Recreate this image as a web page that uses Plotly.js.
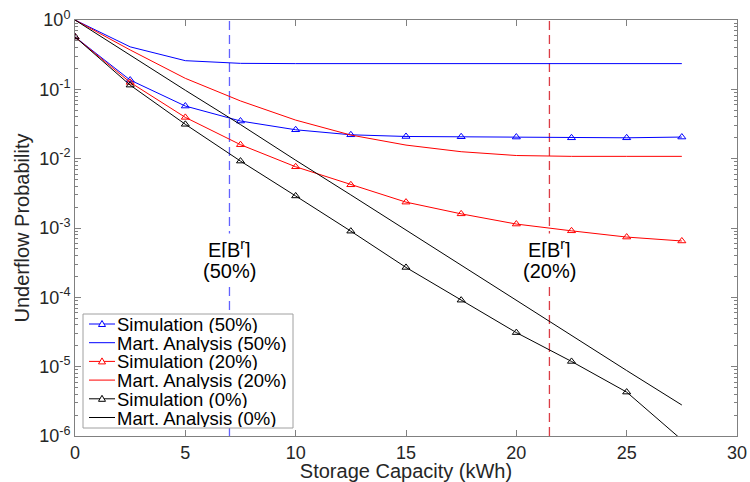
<!DOCTYPE html>
<html>
<head>
<meta charset="utf-8">
<script src="https://cdn.plot.ly/plotly-3.0.1.min.js"></script>
<style>html,body{margin:0;padding:0;background:#fff;}#chart{width:750px;height:482px;}</style>
</head>
<body>
<div id="chart"></div>
<script>
// Storage capacity (kWh)
const capacity = [0, 2.5, 5, 7.5, 10, 12.5, 15, 17.5, 20, 22.5, 25, 27.5];

// Simulation results
const sim50 = [0.57, 0.136, 0.0574, 0.0349, 0.0261, 0.0221, 0.0209, 0.0207, 0.0205, 0.0200, 0.0200, 0.0205];
const sim20 = [0.57, 0.126, 0.0394, 0.0159, 0.00764, 0.0042, 0.00236, 0.0016, 0.00114, 0.00091, 0.00074, 0.00065];
const sim0  = [0.57, 0.115, 0.0313, 0.00923, 0.0029, 0.0009, 0.00027, 9.1e-5, 3.1e-5, 1.19e-5, 4.3e-6, 8.8e-7];

// Martingale analysis
const mart50 = [1, 0.41, 0.259, 0.237, 0.235, 0.235, 0.235, 0.235, 0.235, 0.235, 0.235, 0.235];
const mart20 = [1, 0.37, 0.144, 0.068, 0.036, 0.0219, 0.0157, 0.0126, 0.0111, 0.0108, 0.0108, 0.0108];
const mart0  = [1, 0.31, 0.097, 0.031, 0.0095, 0.0030, 9.3e-4, 2.9e-4, 9.0e-5, 2.8e-5, 8.8e-6, 2.8e-6];

// Expected battery level markers E[B^r]
const erLabels = ["50%", "20%"];
const erValues = [7.0, 21.5];

const yTickVals = [1, 1e-1, 1e-2, 1e-3, 1e-4, 1e-5, 1e-6];
const yTickText = ["10<sup>0</sup>", "10<sup>-1</sup>", "10<sup>-2</sup>", "10<sup>-3</sup>", "10<sup>-4</sup>", "10<sup>-5</sup>", "10<sup>-6</sup>"];
const xTickVals = [0, 5, 10, 15, 20, 25, 30];

const minorVals = [];
for (let e = -6; e < 0; e++) {
  for (let m = 2; m <= 9; m++) minorVals.push(m * Math.pow(10, e));
}

const FONT = "Liberation Sans, Arial, Helvetica, sans-serif";
const BLUE = "#0000ff", RED = "#ff0000", BLACK = "#000000";

function sim(name, y, color) {
  return {x: capacity, y: y, name: name, type: "scatter", mode: "lines+markers",
    line: {color: color, width: 1}, marker: {symbol: "triangle-up-open", size: 7, color: color, line: {width: 1, color: color}}};
}
function mart(name, y, color) {
  return {x: capacity, y: y, name: name, type: "scatter", mode: "lines", line: {color: color, width: 1}};
}

const data = [
  sim("Simulation (50%)", sim50, BLUE),
  mart("Mart. Analysis (50%)", mart50, BLUE),
  sim("Simulation (20%)", sim20, RED),
  mart("Mart. Analysis (20%)", mart20, RED),
  sim("Simulation (0%)", sim0, BLACK),
  mart("Mart. Analysis (0%)", mart0, BLACK)
];

// plot-area geometry (pixels) for the compact legend box
const W = 750, H = 482, ML = 75, MR = 13, MT = 20, MB = 46;
const PW = W - ML - MR, PH = H - MT - MB;
const px = v => (v - ML) / PW;
const py = v => (H - MB - v) / PH;

const shapes = [];
const annotations = [];

const lineColors = ["rgba(70,70,255,0.85)", "rgba(215,40,50,0.9)"];
erValues.forEach((v, i) => {
  shapes.push({type: "line", xref: "x", yref: "paper", x0: v, x1: v, y0: 0, y1: 1,
    line: {color: lineColors[i], width: 1.3, dash: "9px,5px"}, layer: "below"});
  annotations.push({x: v, y: py(248), xref: "x", yref: "paper", text: "E[B<sup>r</sup>]",
    showarrow: false, bgcolor: "#ffffff", font: {family: FONT, size: 20, color: "#000"},
    xanchor: "center", yanchor: "middle", borderpad: 2});
  annotations.push({x: v, y: py(271), xref: "x", yref: "paper", text: "(" + erLabels[i] + ")",
    showarrow: false, bgcolor: "#ffffff", font: {family: FONT, size: 20, color: "#000"},
    xanchor: "center", yanchor: "middle", borderpad: 2});
});

// legend (compact, MATLAB-like spacing)
const LX0 = 83, LX1 = 293, LY0 = 314, LY1 = 428, ROW0 = 324, ROWH = 18.7;
shapes.push({type: "rect", xref: "paper", yref: "paper", x0: px(LX0), x1: px(LX1), y0: py(LY1), y1: py(LY0),
  fillcolor: "#ffffff", line: {color: "#a0a0a0", width: 1}, layer: "above"});
data.forEach((tr, i) => {
  const cy = ROW0 + i * ROWH;
  const col = tr.line.color;
  shapes.push({type: "line", xref: "paper", yref: "paper", x0: px(89), x1: px(115), y0: py(cy), y1: py(cy),
    line: {color: col, width: 1}, layer: "above"});
  if (tr.mode.indexOf("markers") >= 0) {
    const cx = 102;
    const path = "M" + px(cx - 3.5) + "," + py(cy + 2.5) + " L" + px(cx + 3.5) + "," + py(cy + 2.5) +
      " L" + px(cx) + "," + py(cy - 3.5) + " Z";
    shapes.push({type: "path", xref: "paper", yref: "paper", path: path, fillcolor: "#ffffff",
      line: {color: col, width: 1}, layer: "above"});
  }
  annotations.push({x: px(116), y: py(cy), xref: "paper", yref: "paper", text: tr.name, showarrow: false,
    xanchor: "left", yanchor: "middle", height: 18, valign: "middle",
    font: {family: FONT, size: 18.5, color: "#000"}, borderpad: 0});
});

const axisCommon = {
  showline: true, linecolor: "#808080", linewidth: 1, mirror: "ticks",
  ticks: "inside", ticklen: 6, tickcolor: "#808080", showgrid: false, zeroline: false,
  tickfont: {family: FONT, size: 18, color: "#262626"}
};

const layout = {
  width: W, height: H,
  margin: {l: ML, r: MR, t: MT, b: MB},
  paper_bgcolor: "#fff", plot_bgcolor: "#fff",
  font: {family: FONT, color: "#262626"},
  xaxis: Object.assign({}, axisCommon, {
    range: [0, 30], tickmode: "array", tickvals: xTickVals,
    title: {text: "Storage Capacity (kWh)", font: {family: FONT, size: 20, color: "#262626"}, standoff: 3}
  }),
  yaxis: Object.assign({}, axisCommon, {
    type: "log", range: [-6, 0], tickmode: "array", tickvals: yTickVals, ticktext: yTickText,
    minor: {tickmode: "array", tickvals: minorVals, ticks: "inside", ticklen: 3, tickcolor: "#808080", showgrid: false},
    title: {text: "Underflow Probability", font: {family: FONT, size: 20, color: "#262626"}, standoff: 4}
  }),
  showlegend: false,
  shapes: shapes,
  annotations: annotations
};

Plotly.newPlot("chart", data, layout, {displayModeBar: false, staticPlot: true});
</script>
</body>
</html>
